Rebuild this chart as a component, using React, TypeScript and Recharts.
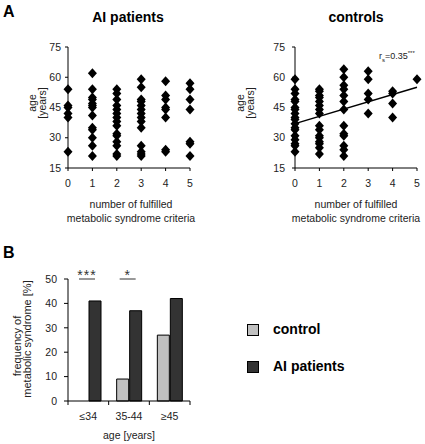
import { ScatterChart, Scatter, XAxis, YAxis, BarChart, Bar, LabelList } from 'recharts';

const CRITERIA = [0, 1, 2, 3, 4, 5];
const AGE_TICKS = [15, 30, 45, 60, 75];

// age of each subject, grouped by number of fulfilled criteria (0..5)
const AI_AGES: number[][] = [
  [54, 46, 45, 42, 40, 23],
  [62, 54, 50, 49, 47, 46, 45, 41, 35, 34, 30, 26, 21],
  [54, 52, 49, 46, 44, 42, 40, 38, 36, 32, 31, 28, 26, 22, 21],
  [59, 55, 49, 48, 46, 44, 42, 40, 38, 35, 26, 23, 22, 21],
  [58, 51, 49, 45, 44, 40, 24, 23],
  [57, 54, 49, 44, 28, 27, 21],
];
const CONTROL_AGES: number[][] = [
  [59, 54, 52, 49, 48, 45, 44, 42, 40, 39, 37, 35, 34, 31, 29, 27, 26, 23],
  [54, 53, 51, 50, 48, 46, 44, 42, 36, 34, 31, 30, 28, 27, 25, 22],
  [64, 60, 56, 54, 51, 48, 44, 36, 32, 31, 26, 24, 21],
  [63, 59, 52, 49, 42],
  [53, 52, 47, 40],
  [59],
];
const TREND_X = [0, 5];
const TREND_Y = [37, 55];

const AGE_GROUPS = ['≤34', '35-44', '≥45'];
const CONTROL_FREQ = [0, 9, 27];
const AI_FREQ = [41, 37, 42];
const SIGNIFICANCE = ['***', '*', ''];
const FREQ_TICKS = [0, 10, 20, 30, 40, 50];

const FONT = '"Liberation Sans", Arial, sans-serif';
const TXT = '#222';

// panel B geometry
const B_W = 215;
const B_MARGIN = { top: 39, right: 25, bottom: 13, left: 8 };
const B_YAXIS_W = 60;
const B_BAND = (B_W - B_MARGIN.left - B_MARGIN.right - B_YAXIS_W) / AGE_GROUPS.length;

const toPoints = (groups: number[][]) =>
  groups.flatMap((ages, x) => ages.map((y) => ({ x, y })));

const aiPoints = toPoints(AI_AGES);
const controlPoints = toPoints(CONTROL_AGES);
const trend = TREND_X.map((x, i) => ({ x, y: TREND_Y[i] }));
const freqData = AGE_GROUPS.map((group, i) => ({
  group,
  control: CONTROL_FREQ[i],
  ai: AI_FREQ[i],
}));

const Diamond = (props: any) => {
  const { cx, cy } = props;
  if (cx == null || cy == null) return <g />;
  return (
    <polygon
      points={`${cx},${cy - 5} ${cx + 4.5},${cy} ${cx},${cy + 5} ${cx - 4.5},${cy}`}
      fill="#000"
    />
  );
};

const SigMark = (props: any) => {
  const { x, y, height, value } = props;
  const i = props.index ?? AI_FREQ.indexOf(value);
  const mark = SIGNIFICANCE[i];
  if (!mark || !height) return null;
  const top = y + height - (50 * height) / value;
  const cx = x - 2;
  return (
    <g>
      <line x1={cx - 8} x2={cx + 8} y1={top} y2={top} stroke="#333" strokeWidth={1} />
      <text x={cx} y={top + 0.5} textAnchor="middle" fontSize={14} fill="#333" letterSpacing={1}>
        {mark}
      </text>
    </g>
  );
};

const GroupTick = (props: any) => {
  const { x, y, payload, index } = props;
  const axisY = y - 12;
  const half = B_BAND / 2;
  return (
    <g>
      <line x1={x - half} x2={x - half} y1={axisY} y2={axisY + 4} stroke="#000" />
      {index === AGE_GROUPS.length - 1 && (
        <line x1={x + half} x2={x + half} y1={axisY} y2={axisY + 4} stroke="#000" />
      )}
      <text x={x} y={y} dy="0.71em" textAnchor="middle" fontSize={10.5} fill={TXT}>
        {payload.value}
      </text>
    </g>
  );
};

const RotLabel = ({ cx, cy, lines, size = 10.5 }: { cx: number; cy: number; lines: string[]; size?: number }) => (
  <div
    style={{
      position: 'absolute',
      left: cx,
      top: cy,
      transform: 'translate(-50%, -50%) rotate(-90deg)',
      textAlign: 'center',
      fontSize: size,
      lineHeight: '10px',
      whiteSpace: 'nowrap',
      color: TXT,
    }}
  >
    {lines.map((l) => (
      <div key={l}>{l}</div>
    ))}
  </div>
);

const AxisTitle = ({ cx, top, lines }: { cx: number; top: number; lines: string[] }) => (
  <div
    style={{
      position: 'absolute',
      left: cx,
      top,
      transform: 'translateX(-50%)',
      textAlign: 'center',
      fontSize: 10.5,
      lineHeight: '14px',
      whiteSpace: 'nowrap',
      color: TXT,
    }}
  >
    {lines.map((l) => (
      <div key={l}>{l}</div>
    ))}
  </div>
);

const Panel = ({ points, showTrend }: { points: { x: number; y: number }[]; showTrend?: boolean }) => (
  <ScatterChart
    width={215}
    height={225}
    margin={showTrend ? { top: 47, right: 8, bottom: 27, left: 25 } : { top: 47, right: 25, bottom: 27, left: 8 }}
  >
    <XAxis
      type="number"
      dataKey="x"
      domain={[0, 5]}
      ticks={CRITERIA}
      height={30}
      tickSize={3}
      tickMargin={9}
      stroke="#000"
      tick={{ fill: TXT, fontSize: 10.5 }}
    />
    <YAxis
      type="number"
      dataKey="y"
      domain={[15, 75]}
      ticks={AGE_TICKS}
      width={60}
      tickSize={3}
      tickMargin={showTrend ? 7 : 4}
      stroke="#000"
      tick={{ fill: TXT, fontSize: 10.5 }}
    />
    <Scatter data={points} shape={Diamond} isAnimationActive={false} />
    {showTrend && (
      <Scatter
        data={trend}
        line={{ stroke: '#000', strokeWidth: 1.5 }}
        shape={() => <g />}
        isAnimationActive={false}
      />
    )}
  </ScatterChart>
);

export default function App() {
  return (
    <div
      style={{
        position: 'absolute',
        left: 0,
        top: 0,
        width: 425,
        height: 444,
        background: '#fff',
        fontFamily: FONT,
        overflow: 'hidden',
      }}
    >
      <div style={{ position: 'absolute', left: 3, top: 3, fontSize: 16, fontWeight: 'bold' }}>A</div>
      <div style={{ position: 'absolute', left: 3, top: 244, fontSize: 16, fontWeight: 'bold' }}>B</div>

      <div style={{ position: 'absolute', left: 128, top: 9, transform: 'translateX(-50%)', fontSize: 14, fontWeight: 'bold', whiteSpace: 'nowrap' }}>
        AI patients
      </div>
      <div style={{ position: 'absolute', left: 356, top: 9, transform: 'translateX(-50%)', fontSize: 14, fontWeight: 'bold', whiteSpace: 'nowrap' }}>
        controls
      </div>

      <div style={{ position: 'absolute', left: 0, top: 0 }}>
        <Panel points={aiPoints} />
      </div>
      <div style={{ position: 'absolute', left: 210, top: 0 }}>
        <Panel points={controlPoints} showTrend />
      </div>

      <RotLabel cx={36.5} cy={103} lines={['age', '[years]']} />
      <RotLabel cx={245} cy={103} lines={['age', '[years]']} />
      <AxisTitle cx={131} top={197} lines={['number of fulfilled', 'metabolic syndrome criteria']} />
      <AxisTitle cx={356} top={197} lines={['number of fulfilled', 'metabolic syndrome criteria']} />

      <div style={{ position: 'absolute', left: 379, top: 50, fontSize: 9, color: TXT, whiteSpace: 'nowrap' }}>
        r<sub style={{ fontSize: 6 }}>s</sub>=0.35<sup style={{ fontSize: 6 }}>***</sup>
      </div>

      <div style={{ position: 'absolute', left: 0, top: 240 }}>
        <BarChart width={B_W} height={204} data={freqData} margin={B_MARGIN} barSize={12} barGap={1}>
          <XAxis
            dataKey="group"
            height={30}
            tickSize={4}
            tickMargin={8}
            tickLine={false}
            stroke="#000"
            tick={<GroupTick />}
          />
          <YAxis
            domain={[0, 50]}
            ticks={FREQ_TICKS}
            width={B_YAXIS_W}
            tickSize={4}
            tickMargin={7}
            stroke="#000"
            tick={{ fill: TXT, fontSize: 10.5 }}
          />
          <Bar dataKey="control" fill="#c0c0c0" stroke="#000" strokeWidth={1} isAnimationActive={false} />
          <Bar dataKey="ai" fill="#333333" stroke="#000" strokeWidth={1} isAnimationActive={false}>
            <LabelList dataKey="ai" content={SigMark} />
          </Bar>
        </BarChart>
      </div>

      <RotLabel cx={17} cy={346} lines={['frequency of']} size={11} />
      <RotLabel cx={27} cy={339} lines={['metabolic syndrome [%]']} size={11} />
      <AxisTitle cx={129} top={428} lines={['age [years]']} />

      <div style={{ position: 'absolute', left: 247, top: 324, width: 10, height: 10, background: '#c0c0c0', border: '1px solid #000' }} />
      <div style={{ position: 'absolute', left: 273, top: 321, fontSize: 14, fontWeight: 'bold' }}>control</div>
      <div style={{ position: 'absolute', left: 247, top: 361, width: 10, height: 10, background: '#333333', border: '1px solid #000' }} />
      <div style={{ position: 'absolute', left: 273, top: 358, fontSize: 14, fontWeight: 'bold' }}>AI patients</div>
    </div>
  );
}
